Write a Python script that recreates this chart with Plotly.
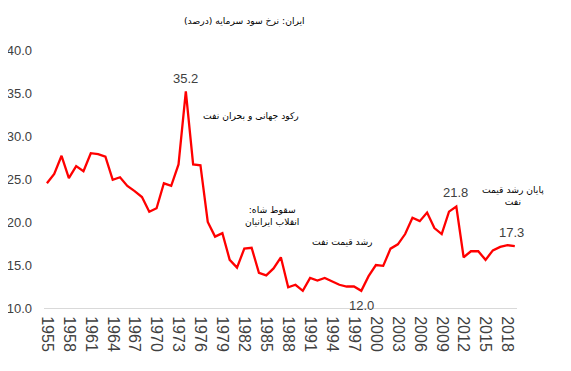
import plotly.graph_objects as go

years = list(range(1955, 2020))
rates = [24.5, 25.6, 27.7, 25.1, 26.5, 25.9, 28.0, 27.9, 27.6, 24.9,
         25.2, 24.2, 23.6, 22.9, 21.2, 21.6, 24.5, 24.2, 26.7, 35.2,
         26.7, 26.6, 20.0, 18.3, 18.7, 15.6, 14.7, 16.9, 17.0, 14.1,
         13.8, 14.6, 15.9, 12.4, 12.7, 12.0, 13.5, 13.2, 13.5, 13.1,
         12.7, 12.5, 12.5, 12.0, 13.7, 15.0, 14.9, 16.9, 17.4, 18.6,
         20.5, 20.1, 21.1, 19.3, 18.6, 21.2, 21.8, 15.9, 16.6, 16.6,
         15.6, 16.7, 17.1, 17.3, 17.2]
tick_years = list(range(1955, 2019, 3))
y_ticks = [10, 15, 20, 25, 30, 35, 40]

RLM = "\u200f"
title_text = RLM + "ایران: نرخ سود سرمایه (درصد)" + RLM
value_labels = [(1974, "35.2", 0, 13), (2011, "21.8", -1, 14), (1998, "12.0", 0, -15), (2018, "17.3", 4, 13)]
notes = [
    (1982.9, 32.4, RLM + "رکود جهانی و بحران نفت" + RLM),
    (1985.8, 20.8, RLM + "سقوط شاه:" + RLM + "<br>" + RLM + "انقلاب ایرانیان" + RLM),
    (1995.4, 17.7, RLM + "رشد قیمت نفت" + RLM),
    (2018.7, 23.1, RLM + "پایان رشد قیمت" + RLM + "<br>" + RLM + "نفت" + RLM),
]

fig = go.Figure()
fig.add_trace(go.Scatter(x=years, y=rates, mode="lines",
                         line=dict(color="#FF0000", width=2.3), hoverinfo="skip"))

num_font = dict(family="Liberation Sans, Arial, sans-serif", size=13, color="#404040")
xtick_font = dict(family="Liberation Sans, Arial, sans-serif", size=16, color="#404040")
fa_font = dict(family="DejaVu Sans, sans-serif", size=9.2, color="#000000")

for yr, txt, xs, ys in value_labels:
    v = rates[years.index(yr)]
    fig.add_annotation(x=yr, y=v, text=txt, showarrow=False, xshift=xs, yshift=ys,
                       font=num_font)

for xv, yv, txt in notes:
    fig.add_annotation(x=xv, y=yv, text=txt, showarrow=False, font=fa_font, align="center")

fig.add_annotation(xref="paper", yref="paper", x=0.423, y=1.0, yshift=22, yanchor="bottom",
                   text=title_text, showarrow=False, font=fa_font)

# page body has an 8px default margin, so the figure is sized to fit the window
fig.update_layout(
    width=563, height=363,
    margin=dict(l=36, r=54, t=42, b=63),
    paper_bgcolor="white", plot_bgcolor="white",
    showlegend=False,
)
fig.update_xaxes(range=[1954.6, 2019.3], tickvals=tick_years, ticktext=[str(t) for t in tick_years],
                 tickangle=90, showgrid=False, zeroline=False, showline=True,
                 linecolor="#D9D9D9", linewidth=1, ticks="", tickfont=xtick_font,
                 automargin=False, ticklabelstandoff=4)
fig.update_yaxes(range=[10, 40], tickvals=y_ticks, tickformat=".1f", showgrid=False,
                 zeroline=False, showline=False, ticks="", tickfont=num_font,
                 automargin=False, ticklabelstandoff=11)

fig.write_html("out.html")
